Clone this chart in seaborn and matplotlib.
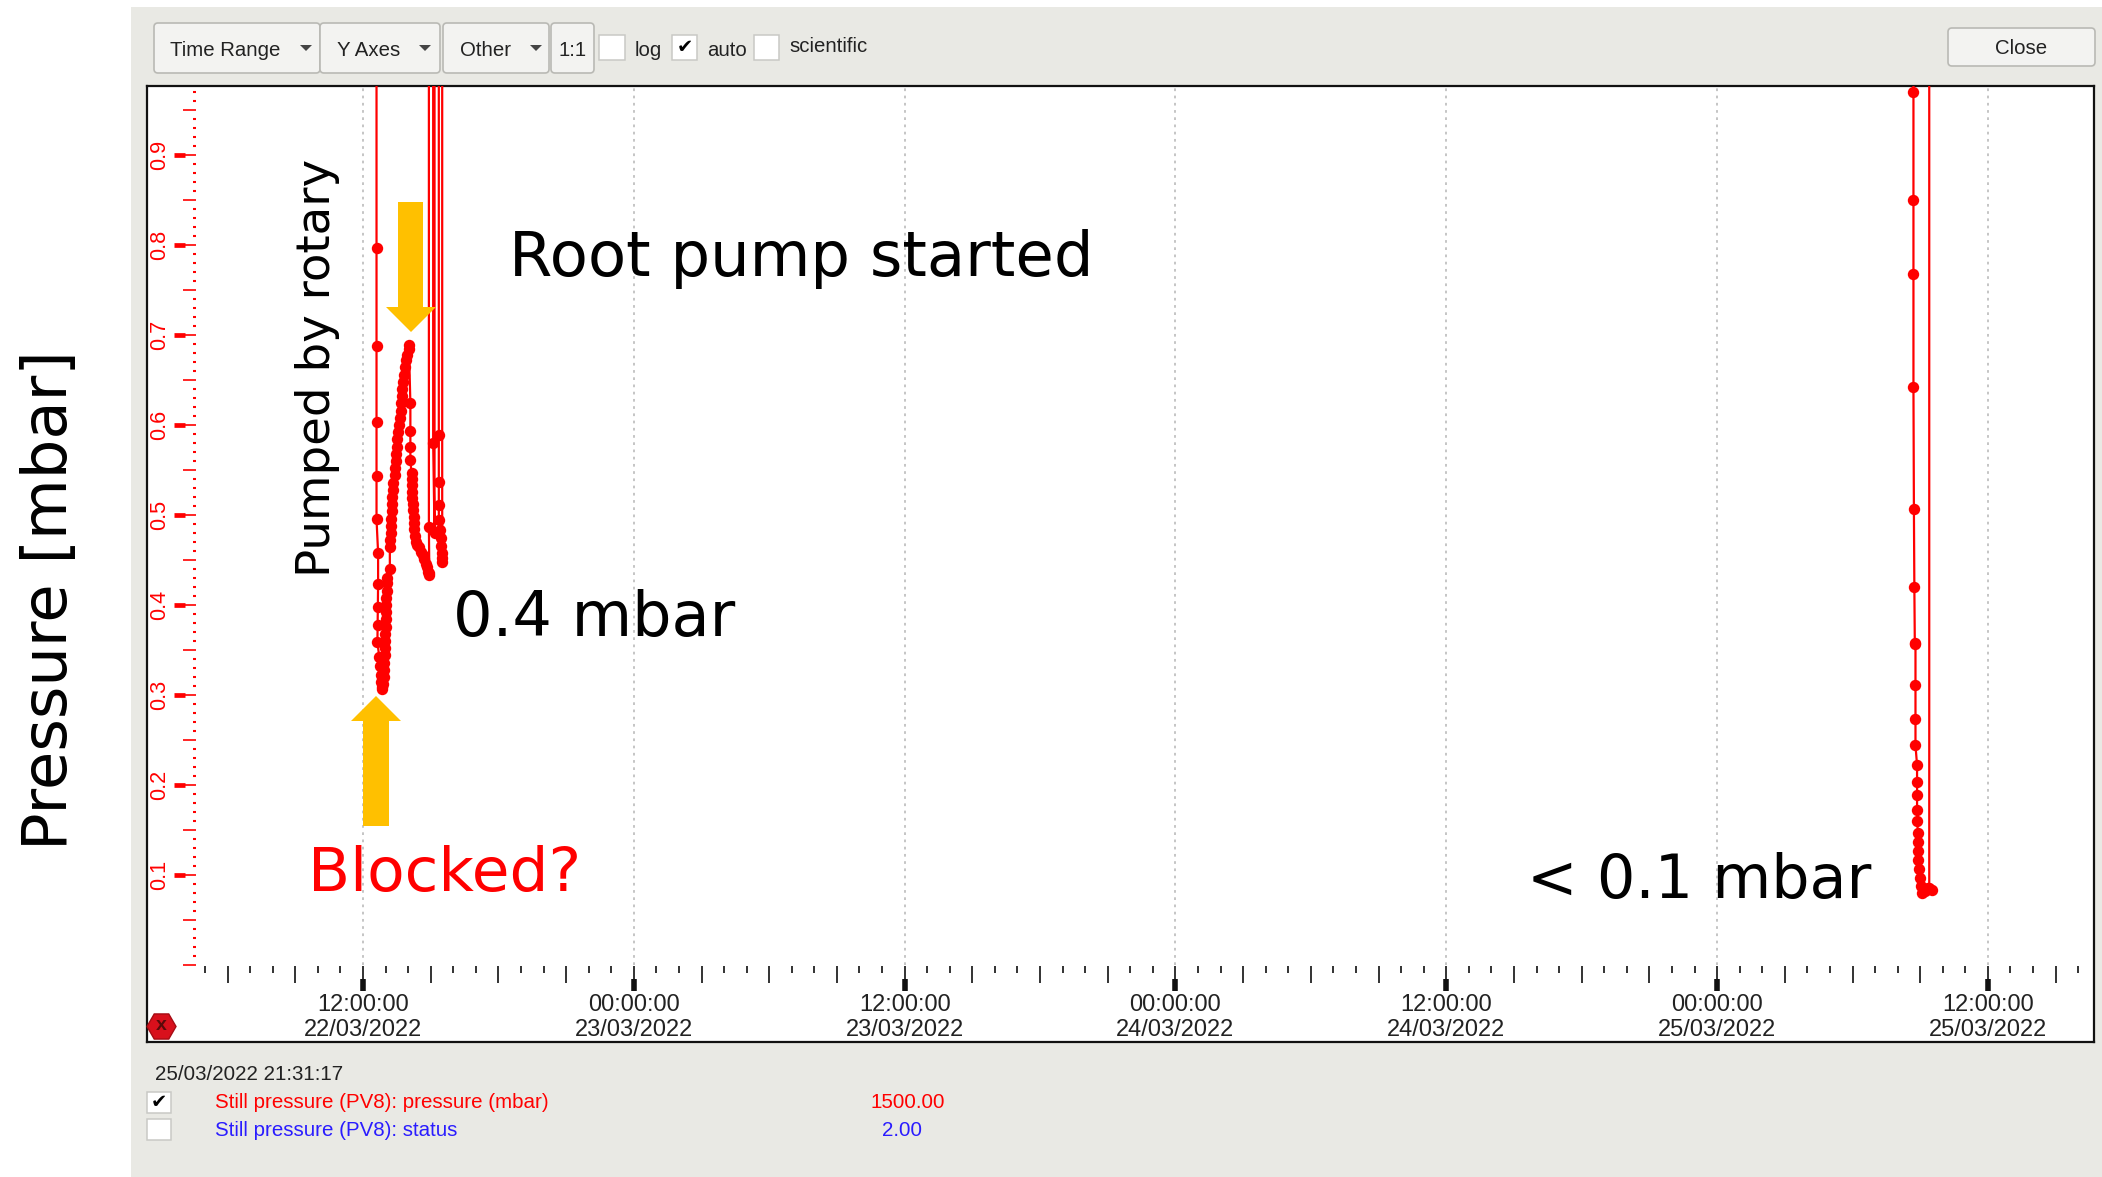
import numpy as np
import pandas as pd
import matplotlib
matplotlib.use("Agg")
import matplotlib.pyplot as plt
from matplotlib.patches import Rectangle, FancyBboxPatch, Polygon, RegularPolygon
from matplotlib.ticker import FixedLocator, FixedFormatter
import seaborn as sns

W, H = 2102, 1177

# ---------- data (hours since 22/03/2022 00:00, pressure in mbar) ----------
OFF = 1500.0  # off-scale reading given by the readout
hours_start = [12.60]*6 + [12.67, 12.67, 12.66, 12.65, 12.64, 12.72, 12.75, 12.78, 12.80, 12.83, 12.86]
press_start = [OFF, .797, .688, .603, .543, .495, .458, .423, .398, .378, .359, .342, .332, .322, .314, .309, .307]

hours_rise = [12.90, 12.92, 12.94, 12.95, 12.96, 12.97, 12.98, 12.99, 13.00, 13.01, 13.02, 13.03, 13.04, 13.05, 13.07,
              13.07, 13.19, 13.19, 13.20, 13.22, 13.24, 13.25, 13.27, 13.28, 13.30, 13.32, 13.35, 13.40, 13.44, 13.46,
              13.48, 13.50, 13.52, 13.56, 13.60, 13.64, 13.67, 13.70, 13.72, 13.75, 13.78, 13.82, 13.86, 13.92, 13.96,
              14.02, 14.04]
press_rise = [.312, .320, .328, .336, .344, .352, .360, .368, .376, .384, .392, .400, .408, .416, .424,
              .430, .440, .464, .472, .480, .488, .496, .504, .512, .520, .528, .536, .544, .552, .560,
              .568, .576, .584, .592, .600, .608, .616, .624, .632, .640, .648, .656, .664, .672, .678,
              .689, .684]

hours_fall = [14.10, 14.10, 14.10, 14.10, 14.15, 14.15, 14.16, 14.17, 14.18, 14.20, 14.22, 14.24, 14.26, 14.28, 14.31,
              14.35, 14.40, 14.47, 14.56, 14.64, 14.72, 14.78, 14.84, 14.88, 14.92, 14.94]
press_fall = [.624, .593, .576, .561, .547, .540, .533, .526, .519, .512, .505, .498, .491, .484, .477,
              .470, .467, .464, .459, .455, .451, .446, .442, .437, .433, .436]

hours_root = [14.92, 15.00, 15.10, 15.11, 15.17, 15.20, 15.36, 15.36, 15.36, 15.36, 15.36, 15.43, 15.45, 15.47, 15.49,
              15.50, 15.51, 15.51]
press_root = [.487, OFF, OFF, .580, .480, OFF, OFF, .589, .537, .511, .494, .483, .474, .466, .458,
              .452, .448, OFF]

hours_end = [80.70, 80.70, 80.70, 80.70, 80.70, 80.72, 80.74, 80.76, 80.79, 80.79, 80.79, 80.79, 80.86, 80.86, 80.86,
             80.86, 80.86, 80.90, 80.90, 80.90, 80.92, 80.94, 80.98, 81.02, 81.08, 81.20, 81.35, 81.53, 81.40, 81.40]
press_end = [OFF, .970, .850, .768, .642, .507, .420, .358, .357, .311, .273, .244, .222, .203, .189,
             .172, .160, .147, .137, .127, .117, .107, .097, .088, .080, .082, .085, .083, .086, OFF]

tick_hours = [12, 24, 36, 48, 60, 72, 84]
tick_times = ["12:00:00", "00:00:00", "12:00:00", "00:00:00", "12:00:00", "00:00:00", "12:00:00"]
tick_dates = ["22/03/2022", "23/03/2022", "23/03/2022", "24/03/2022", "24/03/2022", "25/03/2022", "25/03/2022"]
y_major = [0.1, 0.2, 0.3, 0.4, 0.5, 0.6, 0.7, 0.8, 0.9]
y_labels = ["0.1", "0.2", "0.3", "0.4", "0.5", "0.6", "0.7", "0.8", "0.9"]
x_mid = list(range(6, 88, 3))
x_small = list(range(5, 89))
y_mid = [i/100 for i in range(0, 100, 5) if i/100 < 0.98]
y_small = [i/100 for i in range(0, 98)]

hours = hours_start + hours_rise + hours_fall + hours_root + hours_end
pressure = press_start + press_rise + press_fall + press_root + press_end
df = pd.DataFrame({"hours": hours, "pressure": pressure})

# ---------- style ----------
sns.set_style("white")
UI = ["Liberation Sans", "DejaVu Sans"]
BIG = ["DejaVu Sans"]
plt.rcParams["font.family"] = UI
PANEL = "#E9E9E4"
RED = "#FF0000"
BLUE = "#2A1CFF"
ORANGE = "#FFC000"
INK = "#222222"

fig = plt.figure(figsize=(W/100, H/100), dpi=100, facecolor="white")

def overlay(z):
    a = fig.add_axes([0, 0, 1, 1], zorder=z)
    a.set_xlim(0, W)
    a.set_ylim(H, 0)
    a.axis("off")
    a.patch.set_alpha(0)
    return a

bg = overlay(0)
bg.add_patch(Rectangle((131, 7), W-131, H-7, fc=PANEL, ec="none"))

# ---------- main plot ----------
L, R, T, B = 147, 2094, 86, 1042
ax = fig.add_axes([L/W, 1-B/H, (R-L)/W, (B-T)/H], zorder=1, facecolor="white")
ax.vlines(tick_hours, 0, 1.0, color="#c0c0c0", lw=1.3, linestyle=(0, (1.5, 2.5)), zorder=1)
sns.lineplot(data=df, x="hours", y="pressure", sort=False, estimator=None, color=RED, lw=1.6,
             marker="o", markersize=8.2, markeredgewidth=0, ax=ax, zorder=3)
ax.set_xlim(2.43, 88.70)
ax.set_ylim(-0.0856, 0.9767)
ax.set_xlabel("")
ax.set_ylabel("")
ax.set_xticks([])
ax.set_yticks([])
for s in ax.spines.values():
    s.set_color("#111111")
    s.set_linewidth(1.6)

# time axis drawn inside the frame
xa = ax.secondary_xaxis((B-966)/(B-T))
xa.xaxis.set_major_locator(FixedLocator(x_mid))
xa.xaxis.set_major_formatter(FixedFormatter([]))
xa.xaxis.set_minor_locator(FixedLocator(x_small))
xa.tick_params(axis="x", which="major", length=12.2, width=1.2, color="#111111", labelbottom=False)
xa.tick_params(axis="x", which="minor", length=5, width=1.2, color="#111111")
xb = ax.secondary_xaxis((B-979)/(B-T))
xb.set_xticks(tick_hours, [f"{a}\n{b}" for a, b in zip(tick_times, tick_dates)])
xb.tick_params(axis="x", length=8.6, width=4, color="#111111", pad=2.5, labelsize=17, labelcolor=INK)
for lb in xb.get_xticklabels():
    lb.set_linespacing(1.17)

# pressure axis drawn inside the frame
ya = ax.secondary_yaxis((196-L)/(R-L))
ya.yaxis.set_major_locator(FixedLocator(y_mid))
ya.yaxis.set_major_formatter(FixedFormatter([]))
ya.yaxis.set_minor_locator(FixedLocator(y_small))
ya.tick_params(axis="y", which="major", length=9.4, width=1.2, color=RED)
ya.tick_params(axis="y", which="minor", length=2.4, width=1.5, color=RED)
yb = ax.secondary_yaxis((185-L)/(R-L))
yb.set_yticks(y_major, y_labels)
yb.tick_params(axis="y", length=8, width=3.4, color=RED, pad=3, labelsize=15.6, labelcolor=RED)
for lb in yb.get_yticklabels():
    lb.set_rotation(90)
    lb.set_va("center")
for sec in (xa, xb, ya, yb):
    for s in sec.spines.values():
        s.set_visible(False)

# ---------- toolbar and readout ----------
def button(x0, x1, y0, y1, label, arrow=None, text_x=None, dy=2):
    bg.add_patch(FancyBboxPatch((x0+3, y0+3), x1-x0-6, y1-y0-6, boxstyle="round,pad=3,rounding_size=4",
                                fc="#F3F3F1", ec="#B9B9B4", lw=1.2))
    bg.text(text_x if text_x else (x0+x1)/2, (y0+y1)/2+dy, label, ha="left" if text_x else "center",
            va="center", fontsize=14.7, color=INK)
    if arrow:
        bg.add_patch(Polygon([(arrow-6, (y0+y1)/2-3), (arrow+6, (y0+y1)/2-3), (arrow, (y0+y1)/2+3)],
                             fc="#444444", ec="none"))

def box(x0, x1, y0, y1, checked=False):
    bg.add_patch(Rectangle((x0, y0), x1-x0, y1-y0, fc="white", ec="#C9C9C5", lw=1.1))
    if checked:
        bg.text((x0+x1)/2, (y0+y1)/2, "\u2714", ha="center", va="center", fontsize=14,
                family="DejaVu Sans", color="black")

button(154, 320, 23, 73, "Time Range", arrow=306, text_x=170)
button(320, 440, 23, 73, "Y Axes", arrow=425, text_x=337)
button(443, 549, 23, 73, "Other", arrow=536, text_x=460)
button(551, 594, 23, 73, "1:1")
button(1948, 2095, 28, 66, "Close", dy=1)
box(599, 625, 35, 60)
box(672, 697, 35, 60, checked=True)
box(754, 779, 35, 60)
bg.text(635, 50, "log", va="center", fontsize=14.7, color=INK)
bg.text(707, 50, "auto", va="center", fontsize=14.7, color=INK)
bg.text(789, 47, "scientific", va="center", fontsize=14.7, color=INK)

bg.text(155, 1074, "25/03/2022 21:31:17", va="center", fontsize=14.8, color=INK)
box(147, 171, 1092, 1113, checked=True)
box(147, 171, 1119, 1140)
bg.text(215, 1103, "Still pressure (PV8): pressure (mbar)", va="center", fontsize=14.76, color=RED)
bg.text(215, 1131, "Still pressure (PV8): status", va="center", fontsize=14.76, color=BLUE)
bg.text(908, 1103, "1500.00", ha="center", va="center", fontsize=14.76, color=RED)
bg.text(902, 1131, "2.00", ha="center", va="center", fontsize=14.76, color=BLUE)

# ---------- annotations on top ----------
top = overlay(2)
top.add_patch(RegularPolygon((161.5, 1026.5), 6, radius=14.5, orientation=np.pi/2, fc="#D8101C", ec="#A50C14", lw=1))
top.text(161.5, 1026, "x", ha="center", va="center", fontsize=14, color="#5A0A0A", fontweight="bold")

top.add_patch(Polygon([(398, 202), (423, 202), (423, 307), (436, 307), (411, 332), (386, 307), (398, 307)],
                      fc=ORANGE, ec="none"))
top.add_patch(Polygon([(363, 826), (389, 826), (389, 721), (401, 721), (376, 696), (351, 721), (363, 721)],
                      fc=ORANGE, ec="none"))

top.text(50, 600, "Pressure [mbar]", rotation=90, ha="center", va="center", fontsize=45, family=BIG, color="black")
top.text(317, 368, "Pumped by rotary", rotation=90, ha="center", va="center", fontsize=33.6, family=BIG, color="black")
top.text(509, 276, "Root pump started", ha="left", va="baseline", fontsize=45, family=BIG, color="black")
top.text(453, 636, "0.4 mbar", ha="left", va="baseline", fontsize=44.8, family=BIG, color="black")
top.text(308, 891, "Blocked?", ha="left", va="baseline", fontsize=44.2, family=BIG, color=RED)
top.text(1527, 898, "< 0.1 mbar", ha="left", va="baseline", fontsize=43.5, family=BIG, color="black")

fig.savefig("out.png", dpi=100)
